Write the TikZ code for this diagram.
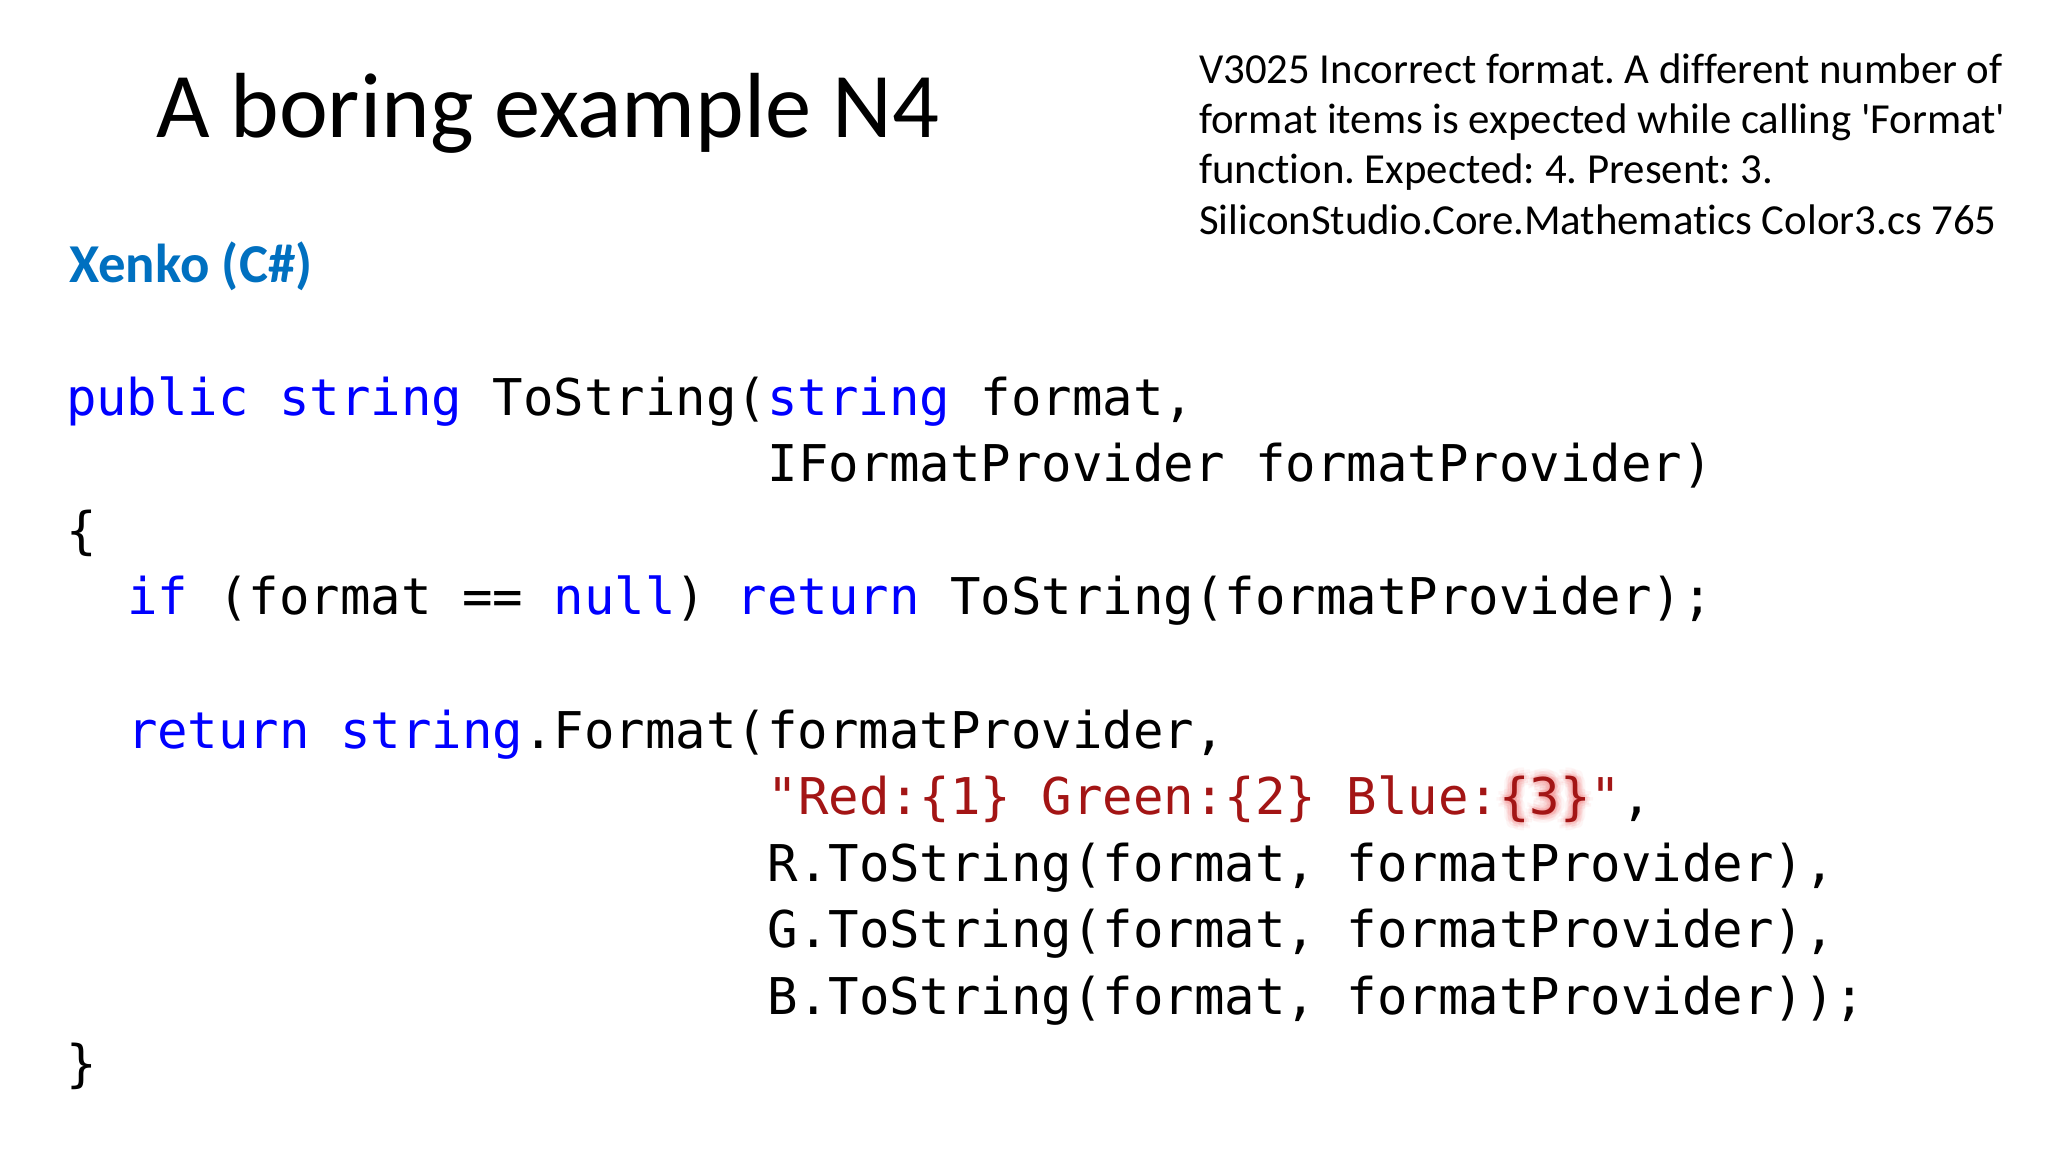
\documentclass[tikz,border=0pt]{standalone}
\usepackage{fontspec}
\setmainfont{Carlito}[Ligatures={TeX,NoCommon}]
\newfontfamily\calib{Carlito}[Ligatures=NoCommon]
\newfontfamily\codefont{DejaVu Sans Mono}
\definecolor{kw}{HTML}{0000FF}
\definecolor{strc}{HTML}{A31515}
\definecolor{xen}{HTML}{0070C0}
\definecolor{glowc}{HTML}{F58C8C}
\newcommand{\KW}[1]{\textcolor{kw}{#1}}
\newcommand{\ST}[1]{\textcolor{strc}{#1}}
\frenchspacing
\begin{document}
\begin{tikzpicture}[x=1pt,y=-1pt,
  codeline/.style={anchor=base west, inner sep=0pt, outer sep=0pt, font=\codefont\fontsize{50.66}{60}\selectfont},
  noteline/.style={anchor=base west, inner sep=0pt, font=\calib\frenchspacing\fontsize{42.8}{50}\selectfont},
  titletext/.style={anchor=base west, inner sep=0pt, font=\fontsize{92.5}{100}\selectfont},
  langtext/.style={anchor=base west, inner sep=0pt, font=\bfseries\fontsize{54.8}{60}\selectfont, text=xen}]
\useasboundingbox (0,0) rectangle (2048,1152);
\fill[white] (0,0) rectangle (2048,1152);
% title
\node[titletext] (title) at (156,137) {A boring example N4};
% warning note
\node[noteline] (n1) at (1199,83) {V3025 Incorrect format. A different number of};
\node[noteline] (n2) at (1199,133.3) {format items is expected while calling 'Format'};
\node[noteline] (n3) at (1199,183.6) {function. Expected: 4. Present: 3.};
\node[noteline] (n4) at (1199,234) {SiliconStudio.Core.Mathematics Color3.cs 765};
% language
\node[langtext] (lang) at (69,282) {Xenko (C\#)};
% code
\def\xo{66}
\def\pc{30.5}
\node[codeline] (c1) at (\xo,415) {\KW{public} \KW{string} ToString(\KW{string} format,};
\node[codeline] (c2) at (\xo+23*\pc,481.6) {IFormatProvider formatProvider)};
\node[codeline] (c3) at (\xo,548.2) {\{};
\node[codeline] (c4) at (\xo+2*\pc,614.8) {\KW{if} (format == \KW{null}) \KW{return} ToString(formatProvider);};
\node[codeline] (c6) at (\xo+2*\pc,748) {\KW{return} \KW{string}.Format(formatProvider,};
% glow behind {3}
\foreach \r/\op in {8/0.08,5/0.12,2.5/0.14} {
  \foreach \a in {0,45,...,315} {
    \node[codeline, text=glowc, opacity=\op] at ([shift={(\a:\r)}]\xo+47*\pc,814.6) {\{3\}};
  }
}
\node[codeline] (c7) at (\xo+23*\pc,814.6) {\ST{"Red:\{1\} Green:\{2\} Blue:\{3\}"},};
\node[codeline] (c8) at (\xo+23*\pc,881.2) {R.ToString(format, formatProvider),};
\node[codeline] (c9) at (\xo+23*\pc,947.8) {G.ToString(format, formatProvider),};
\node[codeline] (c10) at (\xo+23*\pc,1014.4) {B.ToString(format, formatProvider));};
\node[codeline] (c11) at (\xo,1081) {\}};
\end{tikzpicture}
\end{document}
